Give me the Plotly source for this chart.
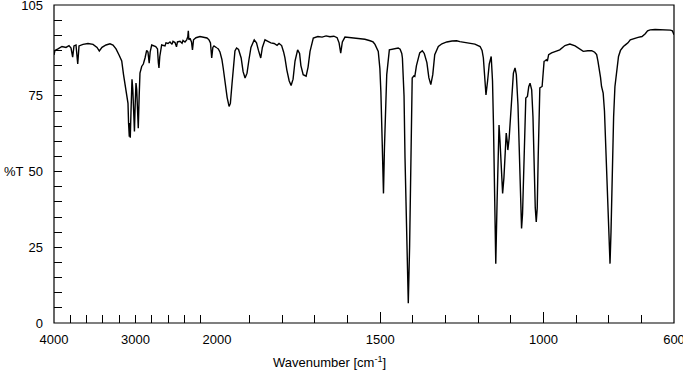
import plotly.graph_objects as go

wavenumber = [
    4000, 3988, 3951, 3902, 3853, 3816, 3791, 3771, 3755, 3730, 3709, 3693, 3644, 3583, 3521,
    3472, 3444, 3411, 3362, 3313, 3276, 3239, 3202, 3169, 3147, 3129, 3110, 3101, 3092, 3085,
    3076, 3070, 3064, 3055, 3043, 3033, 3025, 3013, 3004, 2994, 2985, 2976, 2966, 2955, 2945,
    2924, 2904, 2883, 2863, 2847, 2832, 2820, 2801, 2752, 2730, 2720, 2712, 2702, 2679, 2638,
    2626, 2601, 2577, 2552, 2540, 2515, 2497, 2485, 2454, 2429, 2417, 2393, 2372, 2358, 2352,
    2345, 2331, 2313, 2301, 2288, 2258, 2209, 2159, 2123, 2098, 2080, 2065, 2051, 2037, 2018,
    2000,
    1996, 1991, 1985, 1981, 1976, 1969, 1963, 1959, 1954, 1949, 1945, 1940, 1934, 1926, 1920,
    1914, 1908, 1902, 1896, 1886, 1879, 1873, 1866, 1861, 1853, 1844, 1835, 1825, 1816, 1810,
    1802, 1796, 1792, 1786, 1779, 1773, 1767, 1761, 1753, 1747, 1743, 1736, 1727, 1721, 1715,
    1705, 1691, 1678, 1666, 1654, 1642, 1632, 1626, 1621, 1616, 1608, 1593, 1577, 1562, 1547,
    1531, 1522, 1516, 1506, 1501, 1498, 1494, 1490, 1487, 1483, 1480, 1472, 1463, 1454, 1445,
    1439, 1434, 1432, 1427, 1424, 1419, 1414, 1410, 1407, 1402, 1397, 1394, 1389, 1384, 1379,
    1371, 1365, 1357, 1351, 1345, 1339, 1333, 1322, 1311, 1296, 1280, 1266, 1256, 1240, 1225,
    1210, 1194, 1188, 1184, 1180, 1176, 1171, 1166, 1160, 1156, 1153, 1149, 1146, 1142, 1139,
    1136, 1133, 1128, 1125, 1121, 1117, 1114, 1111, 1109, 1105, 1101, 1097, 1092, 1087, 1083,
    1078, 1074, 1070, 1067, 1064, 1060, 1057, 1054, 1049, 1045, 1041, 1036, 1032, 1028, 1025,
    1022, 1019, 1016, 1013, 1011, 1004, 1001, 998, 995, 991, 988, 984, 975, 965, 950,
    934, 919, 903, 888, 878, 864, 852, 843, 837, 833, 829, 825, 822, 817, 813,
    810, 806, 802, 799, 796, 793, 789, 785, 781, 777, 770, 764, 755, 747, 741,
    734, 722, 710, 698, 688, 681, 673, 658, 642, 627, 611, 605, 600,
]

transmittance = [
    88.5, 90.0, 90.5, 91.3, 91.0, 91.6, 90.8, 87.8, 91.5, 91.8, 85.5, 91.5, 92.0, 92.3, 92.0,
    91.0, 89.8, 91.0, 91.8, 92.2, 91.8, 90.5, 88.5, 86.5, 82.0, 78.6, 75.8, 74.3, 72.5, 66.0,
    61.5, 66.0, 61.2, 70.0, 80.5, 77.0, 68.0, 63.2, 72.0, 79.2, 77.0, 68.0, 64.3, 75.0, 82.5,
    84.7, 85.5, 87.5, 90.0, 89.5, 85.8, 89.5, 91.8, 91.3, 90.5, 86.0, 84.2, 88.0, 91.8, 91.5,
    92.5, 92.3, 92.8, 92.0, 93.0, 92.6, 91.2, 92.8, 93.0, 92.4, 93.3, 92.8, 93.5, 94.5, 96.5,
    93.5, 94.0, 92.8, 90.2, 93.5, 94.2, 94.6, 94.4, 94.1, 93.5, 92.5, 87.5, 91.0, 91.5, 91.2,
    90.8,
    90.5, 89.5, 87.0, 84.2, 79.5, 74.5, 71.5, 72.5, 79.0, 86.0, 89.8, 90.8, 90.3, 87.5, 83.0,
    80.9, 82.5, 87.0, 91.0, 93.5, 92.5, 90.0, 87.5, 91.0, 93.5, 93.0, 92.5, 92.3, 91.7, 92.3,
    91.6, 89.5, 87.6, 83.5, 80.0, 78.4, 80.5, 86.5, 90.2, 89.0, 85.0, 82.0, 81.5, 84.5, 89.7,
    94.1, 94.6, 94.4, 94.8, 94.5, 94.7, 94.2, 92.5, 89.1, 92.8, 94.4, 94.2, 94.0, 93.9, 93.7,
    93.2, 92.8, 92.0, 89.7, 84.0, 76.4, 60.0, 42.8, 58.0, 75.0, 82.0, 90.2, 90.4, 90.8, 90.8,
    90.4, 89.0, 87.5, 75.0, 54.4, 30.0, 6.5, 25.0, 54.0, 80.9, 81.6, 81.4, 85.0, 87.5, 89.2,
    89.9, 89.0, 86.0, 81.0, 78.7, 82.0, 88.6, 91.3, 92.2, 92.8, 93.1, 93.2, 92.9, 92.7, 92.4,
    92.1, 91.3, 90.0, 87.5, 80.0, 75.3, 80.0, 85.5, 88.0, 80.0, 65.4, 40.0, 19.6, 40.0, 58.0,
    65.4, 60.0, 48.0, 42.8, 48.0, 57.0, 62.7, 60.0, 57.1, 61.0, 68.0, 77.0, 82.5, 84.2, 82.0,
    72.0, 55.0, 38.0, 31.2, 36.0, 55.0, 70.0, 74.3, 74.8, 78.0, 79.2, 77.0, 68.0, 50.0, 38.0,
    33.4, 38.0, 55.0, 70.0, 77.6, 78.1, 82.0, 86.4, 86.6, 86.9, 86.5, 88.6, 89.2, 89.7, 90.2,
    91.6, 92.1, 91.5, 90.3, 89.7, 89.9, 89.9, 89.4, 88.6, 86.5, 84.2, 81.0, 78.1, 75.9, 70.0,
    60.0, 48.9, 35.0, 26.0, 19.6, 30.0, 50.0, 68.0, 78.0, 82.0, 88.0, 90.0, 91.3, 92.0, 92.5,
    93.5, 94.0, 94.3, 94.6, 95.5, 96.5, 96.8, 96.9, 96.8, 96.9, 96.7, 96.5, 95.2,
]

x_major_hi = [4000, 3000]
x_major_hi_text = ["4000", "3000"]
x_minor_hi = [3800, 3600, 3400, 3200, 2800, 2600, 2400, 2200]
x_major_lo = [2000, 1500, 1000, 600]
x_major_lo_text = ["2000", "1500", "1000", "600"]
x_minor_lo = [1900, 1800, 1700, 1600, 1400, 1300, 1200, 1100, 900, 800, 700]
y_major = [0, 25, 50, 75, 105]
y_major_text = ["0", "25", "50", "75", "105"]
y_minor = [v for v in range(5, 105, 5) if v not in (25, 50, 75)]

SPLIT = 2000
hi_x = [w for w in wavenumber if w >= SPLIT]
hi_y = [t for w, t in zip(wavenumber, transmittance) if w >= SPLIT]
lo_x = [w for w in wavenumber if w <= SPLIT]
lo_y = [t for w, t in zip(wavenumber, transmittance) if w <= SPLIT]

W, H = 683, 375
L, R, T, B = 54, 9, 5, 52
plot_w = W - L - R
plot_h = H - T - B
split_frac = 163 / plot_w

fig = go.Figure()
line = dict(color="black", width=1.4)
fig.add_trace(go.Scatter(x=hi_x, y=hi_y, mode="lines", line=line, xaxis="x", yaxis="y",
                         showlegend=False, hoverinfo="skip"))
fig.add_trace(go.Scatter(x=lo_x, y=lo_y, mode="lines", line=line, xaxis="x2", yaxis="y",
                         showlegend=False, hoverinfo="skip"))

font = dict(family="Liberation Sans, Arial, sans-serif", size=13, color="black")
common_x = dict(ticks="inside", tickcolor="black", tickwidth=1, showgrid=False,
                zeroline=False, showline=False, tickfont=font, anchor="y",
                ticklabelstandoff=7, automargin=False, ticklabeloverflow="allow")

fig.update_layout(
    width=W, height=H,
    margin=dict(l=L, r=R, t=T, b=B, autoexpand=False),
    paper_bgcolor="white", plot_bgcolor="white",
    font=font,
    xaxis=dict(domain=[0, split_frac], range=[4000, 2000], tickmode="array",
               tickvals=x_major_hi, ticktext=x_major_hi_text, ticklen=8,
               minor=dict(tickmode="array", tickvals=x_minor_hi, ticks="inside",
                          ticklen=8, tickcolor="black", showgrid=False),
               **common_x),
    xaxis2=dict(domain=[split_frac, 1], range=[2000, 600], tickmode="array",
                tickvals=x_major_lo, ticktext=x_major_lo_text, ticklen=11,
                minor=dict(tickmode="array", tickvals=x_minor_lo, ticks="inside",
                           ticklen=8, tickcolor="black", showgrid=False),
                **common_x),
    yaxis=dict(domain=[0, 1], range=[0, 105], tickmode="array", tickvals=y_major,
               ticktext=y_major_text, ticks="inside", ticklen=8, tickcolor="black",
               minor=dict(tickmode="array", tickvals=y_minor, ticks="inside",
                          ticklen=8, tickcolor="black", showgrid=False),
               showgrid=False, zeroline=False, showline=False, tickfont=font,
               anchor="x", ticklabelstandoff=10, automargin=False,
               ticklabeloverflow="allow"),
    shapes=[dict(type="rect", xref="paper", yref="paper", x0=0, x1=1, y0=0, y1=1,
                 line=dict(color="black", width=1.2), fillcolor="rgba(0,0,0,0)",
                 layer="above")],
    annotations=[
        dict(text="%T", xref="paper", yref="paper", x=(1.5 - L) / plot_w, y=50 / 105,
             xanchor="left", yanchor="middle", showarrow=False, font=font),
        dict(text="Wavenumber [cm<sup>-1</sup>]", xref="paper", yref="paper",
             x=(329 - L) / plot_w, y=-(362 - (H - B)) / plot_h,
             xanchor="center", yanchor="middle", showarrow=False, font=font),
    ],
)

fig.write_html("out.html", config={"displayModeBar": False},
               post_script="document.body.style.margin='0';document.body.style.overflow='hidden';")
